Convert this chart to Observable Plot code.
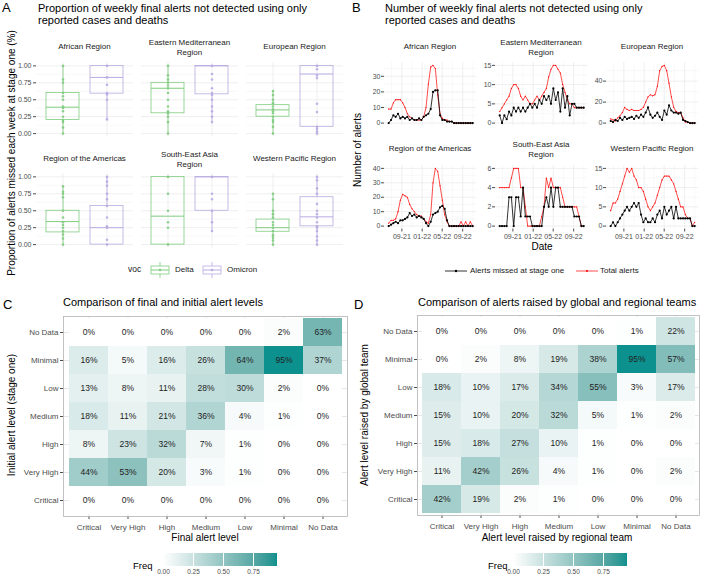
<!DOCTYPE html>
<html><head><meta charset="utf-8">
<script src="https://cdn.jsdelivr.net/npm/d3@7"></script>
<script src="https://cdn.jsdelivr.net/npm/@observablehq/plot@0.6"></script>
<style>
body{margin:0;background:#fff;font-family:"Liberation Sans",Arial,Helvetica,sans-serif;}
#fig{position:relative;width:703px;height:576px;overflow:hidden;background:#fff;}
</style></head><body><div id="fig"></div>
<script>
// ---------------- DATA ----------------
const regions = ["African Region","Eastern Mediterranean Region","European Region","Region of the Americas","South-East Asia Region","Western Pacific Region"];
const stripLabels = ["African Region","Eastern Mediterranean\nRegion","European Region","Region of the Americas","South-East Asia\nRegion","Western Pacific Region"];
const vocs = ["Delta","Omicron"];
const vocColors = ["#7fcc7f","#b9abe2"];

// Panel A: box statistics [min, q1, median, q3, max] per region
const boxDelta = [
  [0,0.20,0.39,0.60,1.00],
  [0,0.30,0.67,0.75,1.00],
  [0,0.25,0.35,0.42,0.63],
  [0,0.18,0.34,0.50,0.86],
  [0,0.00,0.42,1.00,1.00],
  [0,0.19,0.25,0.37,0.75]
];
const boxOmicron = [
  [0.21,0.59,0.83,1.00,1.00],
  [0.17,0.58,1.00,1.00,1.00],
  [0.00,0.10,0.88,1.00,1.00],
  [0.00,0.00,0.25,0.57,1.00],
  [0.20,0.50,1.00,1.00,1.00],
  [0.00,0.27,0.41,0.70,1.00]
];
// Panel A: weekly proportions (points)
const ptsDelta = [
  [0,0.09,0.17,0.2,0.25,0.33,0.38,0.4,0.5,0.55,0.6,0.75,0.8,1.0],
  [0,0.17,0.25,0.3,0.33,0.4,0.5,0.6,0.67,0.71,0.75,0.8,0.86,1.0],
  [0,0.1,0.17,0.2,0.25,0.3,0.33,0.36,0.4,0.45,0.5,0.57,0.63],
  [0,0.09,0.15,0.2,0.25,0.29,0.33,0.4,0.5,0.7,0.75,0.78,0.86],
  [0,0.25,0.33,0.5,0.75,1.0],
  [0,0.06,0.1,0.14,0.2,0.25,0.29,0.33,0.4,0.45,0.5,0.67,0.75]
];
const ptsOmicron = [
  [0.21,0.5,0.58,0.6,0.72,0.83,1.0],
  [0.17,0.25,0.33,0.4,0.5,0.57,0.6,0.67,0.8,0.88,1.0],
  [0,0.03,0.07,0.1,0.32,0.44,0.82,0.86,0.95,1.0],
  [0,0.07,0.25,0.27,0.4,0.57,0.67,0.75,0.87,0.93,1.0],
  [0.2,0.33,0.5,0.67,0.75,1.0],
  [0,0.06,0.12,0.2,0.25,0.27,0.33,0.4,0.45,0.5,0.6,0.75,0.83,0.95,1.0]
];
const propTicks = [0,0.25,0.5,0.75,1];
const propMinor = [0.125,0.375,0.625,0.875];

// Panel B: time series (dates and counts)
const dates = ["2021-06-14","2021-06-28","2021-07-12","2021-07-26","2021-08-09","2021-08-23","2021-09-06","2021-09-20","2021-10-04","2021-10-18","2021-11-01","2021-11-15","2021-11-29","2021-12-13","2021-12-27","2022-01-10","2022-01-24","2022-02-07","2022-02-21","2022-03-07","2022-03-21","2022-04-04","2022-04-18","2022-05-02","2022-05-16","2022-05-30","2022-06-13","2022-06-27","2022-07-11","2022-07-25","2022-08-08","2022-08-22","2022-09-05","2022-09-19","2022-10-03","2022-10-17","2022-10-31"];
const afrTotal  = [9,9,13,15,15,15,13,10,6,4, 3,2,2,2,2,4,10,25,36,37, 35,18,6,3,2,2,1,1,0,0, 0,0,0,0,0,0,0];
const afrMissed = [0,2,5,4,6,3,4,3,4,2, 3,2,2,3,2,4,5,6,9,20, 21,21,5,2,2,1,1,1,0,0, 0,0,0,0,0,0,0];
const emrTotal  = [3,4,5,6,7,9,10,10,9,7, 6,7,6,5,5,6,7,6,7,8, 9,12,14,15,15,14,13,10,8,6, 5,5,4,4,4,4,4];
const emrMissed = [2,0,2,1,3,2,4,3,4,3, 4,3,4,5,4,5,4,6,5,7, 6,7,5,9,6,8,3,9,4,7, 2,5,5,4,4,4,4];
const eurTotal  = [4,3,2,5,7,10,15,13,12,13, 12,12,12,13,15,20,25,27,26,27, 35,50,54,55,50,38,25,15,11,10, 10,5,1,1,0,0,0];
const eurMissed = [2,1,3,2,5,3,6,4,5,6, 4,7,5,8,6,10,15,8,5,7, 10,6,3,12,8,17,12,10,10,9, 10,3,2,1,0,0,0];
const amrTotal  = [2,4,4,5,10,18,22,21,20,15, 12,10,8,7,7,5,3,2,8,30, 40,38,28,18,8,3,0,0,0,0, 0,3,0,3,0,3,0];
const amrMissed = [0,1,2,3,2,4,4,5,6,9, 7,8,6,7,6,5,2,0,3,8, 9,10,13,14,12,4,0,0,0,0, 0,0,0,0,0,0,0];
const searTotal = [4,4,4,4,4,5,6,6,6,4, 4,2,0,0,0,0,0,0,1,2, 5,4,5,4,4,4,4,3,2,2, 2,2,2,2,1,0,0];
const searMissed= [0,0,0,0,3,3,0,3,3,1, 4,1,1,1,0,0,0,0,0,2, 3,2,4,2,4,4,2,2,2,2, 2,2,1,1,1,0,0];
const wprTotal  = [4,6,6,7,9,11,13,15,14,15, 13,12,10,10,9,7,5,4,5,6, 8,10,12,13,13,13,12,11,9,7, 5,5,3,2,2,0,1];
const wprMissed = [0,1,0,1,2,3,4,5,4,5, 6,5,6,3,1,2,1,1,2,1, 3,4,2,5,3,4,5,2,5,2, 2,2,2,2,2,0,0];
const totals = [afrTotal, emrTotal, eurTotal, amrTotal, searTotal, wprTotal];
const missed = [afrMissed, emrMissed, eurMissed, amrMissed, searMissed, wprMissed];
const countTicks = [[0,10,20,30],[0,5,10,15],[0,20,40],[0,10,20,30,40],[0,2,4,6],[0,5,10,15]];
const dateTicks = ["2021-09-01","2022-01-01","2022-05-01","2022-09-01"];
const dateMinor = ["2021-07-01","2021-11-01","2022-03-01","2022-07-01","2022-11-01"];

// Panels C and D: heatmaps (percent), rows ordered Critical -> No Data
const levels = ["Critical","Very High","High","Medium","Low","Minimal","No Data"];
const freqC = [
  [0,0,0,0,0,0,0],
  [44,53,20,3,1,0,0],
  [8,23,32,7,1,0,0],
  [18,11,21,36,4,1,0],
  [13,8,11,28,30,2,0],
  [16,5,16,26,64,95,37],
  [0,0,0,0,0,2,63]
];
const freqD = [
  [42,19,2,1,0,0,0],
  [11,42,26,4,1,0,2],
  [15,18,27,10,1,0,0],
  [15,10,20,32,5,1,2],
  [18,10,17,34,55,3,17],
  [0,2,8,19,38,95,57],
  [0,0,0,0,0,1,22]
];
const freqTicks = [0,0.25,0.5,0.75];
const TEAL = "#0d918e";

// ---------------- HELPERS ----------------
const FONT = "'Liberation Sans', Arial, Helvetica, sans-serif";
const fig = document.getElementById("fig");
function put(node, left, top) {
  const d = document.createElement("div");
  d.style.cssText = `position:absolute;left:${left}px;top:${top}px;line-height:0;`;
  d.appendChild(node); fig.appendChild(d); return d;
}
function text(str, x, y, o = {}) {
  const d = document.createElement("div");
  const anchor = o.anchor || "start";
  const tx = anchor === "middle" ? "-50%" : anchor === "end" ? "-100%" : "0";
  d.textContent = str;
  d.style.cssText = `position:absolute;left:${x}px;top:${y}px;font-size:${o.size || 10}px;color:${o.color || "#1a1a1a"};white-space:pre;line-height:${o.lh || "1.15"};text-align:${o.align || "left"};transform:translate(${tx},-50%)${o.rotate ? ` rotate(${o.rotate}deg)` : ""};font-family:${FONT};`;
  fig.appendChild(d);
}
const baseStyle = (size) => ({fontFamily: FONT, fontSize: size, color: "#4d4d4d", background: "transparent", overflow: "visible"});

// ---------------- PANEL A ----------------
text("A", 2, 8, {size: 13, color: "#000"});
text("Proportion of weekly final alerts not detected using only\nreported cases and deaths", 38, 14, {size: 11, color: "#000", lh: "12px"});
text("Proportion of alerts missed each week at stage one (%)", 12, 153, {size: 10, color: "#000", anchor: "middle", rotate: -90});

regions.forEach((reg, k) => {
  const col = k % 3, row = Math.floor(k / 3);
  const pl = [36, 141, 246][col], pt = [61.6, 173.3][row];
  const W = 97, H = 74.5, ml = 30, mr = 2, mt = 2, mb = 2;
  const boxes = vocs.map((v, j) => {
    const s = (j ? boxOmicron : boxDelta)[k];
    return {voc: v, min: s[0], q1: s[1], med: s[2], q3: s[3], max: s[4]};
  });
  const pts = vocs.flatMap((v, j) => (j ? ptsOmicron : ptsDelta)[k].map(p => ({voc: v, p})));
  const chart = Plot.plot({
    width: W + ml + mr, height: H + mt + mb,
    marginLeft: ml, marginRight: mr, marginTop: mt, marginBottom: mb,
    style: baseStyle("7px"),
    x: {type: "band", domain: vocs, paddingInner: 0.25, paddingOuter: 0.227, axis: null},
    y: {domain: [-0.05, 1.05], axis: col === 0 ? "left" : null, ticks: propTicks, tickFormat: d3.format(".2f"), tickSize: 3, tickPadding: 2, label: null},
    color: {domain: vocs, range: vocColors},
    marks: [
      Plot.ruleY(propMinor, {stroke: "#f3f3f3", strokeWidth: 0.6}),
      Plot.ruleY(propTicks, {stroke: "#ebebeb", strokeWidth: 0.8}),
      Plot.ruleX(vocs, {x: d => d, stroke: "#ebebeb", strokeWidth: 0.8}),
      Plot.ruleX(boxes, {x: "voc", y1: "min", y2: "q1", stroke: "voc", strokeWidth: 0.8}),
      Plot.ruleX(boxes, {x: "voc", y1: "q3", y2: "max", stroke: "voc", strokeWidth: 0.8}),
      Plot.barY(boxes, {x: "voc", y1: "q1", y2: "q3", fill: "none", stroke: "voc", strokeWidth: 0.8}),
      Plot.tickY(boxes, {x: "voc", y: "med", stroke: "voc", strokeWidth: 1}),
      Plot.dot(pts, {x: "voc", y: "p", r: 1.3, fill: "voc", stroke: null, fillOpacity: 0.9})
    ]
  });
  put(chart, pl - ml, pt - mt);
  text(stripLabels[k], pl + W / 2, row ? 159 : 47, {size: 8, anchor: "middle", align: "center", lh: "9.5px"});
});

// legend A
function boxKey(color) {
  const s = d3.create("svg").attr("width", 24).attr("height", 16);
  s.append("line").attr("x1", 12).attr("x2", 12).attr("y1", 0).attr("y2", 16).attr("stroke", color).attr("stroke-width", 0.8);
  s.append("rect").attr("x", 3).attr("y", 4).attr("width", 18).attr("height", 8).attr("fill", "white").attr("stroke", color).attr("stroke-width", 0.8);
  s.append("line").attr("x1", 3).attr("x2", 21).attr("y1", 8).attr("y2", 8).attr("stroke", color).attr("stroke-width", 1);
  s.append("circle").attr("cx", 12).attr("cy", 8).attr("r", 1.3).attr("fill", color);
  return s.node();
}
text("voc", 128, 270, {size: 8.5});
put(boxKey(vocColors[0]), 148, 262);
text("Delta", 175, 270, {size: 8});
put(boxKey(vocColors[1]), 200, 262);
text("Omicron", 227, 270, {size: 8});

// ---------------- PANEL B ----------------
text("B", 352, 8, {size: 13, color: "#000"});
text("Number of weekly final alerts not detected using only\nreported cases and deaths", 385, 14, {size: 11, color: "#000", lh: "12px"});
text("Number of alerts", 358, 150, {size: 10, color: "#000", anchor: "middle", rotate: -90});
text("Date", 542, 247, {size: 10, color: "#000", anchor: "middle"});

const parsedDates = dates.map(d => new Date(d));
const d0 = parsedDates[0], d1 = parsedDates[parsedDates.length - 1];
const padMs = (d1 - d0) * 0.05;
const xDomain = [new Date(+d0 - padMs), new Date(+d1 + padMs)];

regions.forEach((reg, k) => {
  const col = k % 3, row = Math.floor(k / 3);
  const pl = [383.8, 494.8, 605.8][col], pt = [62, 165][row];
  const W = 92.4, H = 63.5, ml = 24, mr = 3, mt = 2, mb = row ? 16 : 2;
  const tot = parsedDates.map((d, i) => ({date: d, v: totals[k][i]}));
  const mis = parsedDates.map((d, i) => ({date: d, v: missed[k][i]}));
  const m = d3.max([...totals[k], ...missed[k]]);
  const ticks = countTicks[k];
  const step = ticks[1] - ticks[0];
  const minorY = ticks.map(t => t + step / 2).filter(t => t <= m * 1.05);
  const chart = Plot.plot({
    width: W + ml + mr, height: H + mt + mb,
    marginLeft: ml, marginRight: mr, marginTop: mt, marginBottom: mb,
    style: baseStyle("7px"),
    x: {type: "utc", domain: xDomain, axis: row ? "bottom" : null, ticks: dateTicks.map(d => new Date(d)), tickFormat: d3.utcFormat("%m-%y"), tickSize: 3, tickPadding: 2, label: null},
    y: {domain: [-0.05 * m, 1.05 * m], ticks, tickFormat: d3.format("d"), tickSize: 3, tickPadding: 1, label: null},
    marks: [
      Plot.ruleX(dateMinor.map(d => new Date(d)), {stroke: "#f3f3f3", strokeWidth: 0.6}),
      Plot.ruleX(dateTicks.map(d => new Date(d)), {stroke: "#ebebeb", strokeWidth: 0.8}),
      Plot.ruleY(minorY, {stroke: "#f3f3f3", strokeWidth: 0.6}),
      Plot.ruleY(ticks, {stroke: "#ebebeb", strokeWidth: 0.8}),
      Plot.line(tot, {x: "date", y: "v", stroke: "#ff0000", strokeWidth: 0.7}),
      Plot.dot(tot, {x: "date", y: "v", r: 0.6, fill: "#ff0000", stroke: null}),
      Plot.line(mis, {x: "date", y: "v", stroke: "#000", strokeWidth: 0.8}),
      Plot.dot(mis, {x: "date", y: "v", r: 1.1, fill: "#000", stroke: null})
    ]
  });
  put(chart, pl - ml, pt - mt);
  text(stripLabels[k], pl + W / 2, row ? 149 : 47, {size: 8, anchor: "middle", align: "center", lh: "9.5px"});
});

function lineKey(color, w, r) {
  const s = d3.create("svg").attr("width", 22).attr("height", 10);
  s.append("line").attr("x1", 0).attr("x2", 22).attr("y1", 5).attr("y2", 5).attr("stroke", color).attr("stroke-width", w);
  s.append("circle").attr("cx", 11).attr("cy", 5).attr("r", r).attr("fill", color);
  return s.node();
}
put(lineKey("#000", 0.8, 1.2), 445, 266);
text("Alerts missed at stage one", 470, 271, {size: 8});
put(lineKey("#ff0000", 0.7, 1), 576, 266);
text("Total alerts", 600, 271, {size: 8});

// ---------------- PANELS C & D ----------------
const levelsTop = levels.slice().reverse();
const colorOpts = {type: "linear", domain: [0, 0.95], range: ["#ffffff", TEAL], interpolate: "lab"};
function heatmap(freq, cfg) {
  const cells = levels.flatMap((yl, r) => levels.map((xl, c) => ({x: xl, y: yl, f: freq[r][c] / 100, pct: freq[r][c]})));
  return Plot.plot({
    width: cfg.width, height: 260,
    marginLeft: cfg.ml, marginRight: cfg.mr, marginTop: cfg.mt, marginBottom: 260 - cfg.mt - 200,
    style: baseStyle("8px"),
    x: {domain: levels, padding: 0, insetLeft: cfg.ix, insetRight: cfg.ix, tickSize: 3, tickPadding: 5, label: null},
    y: {domain: levelsTop, padding: 0, insetTop: 2, insetBottom: 2, tickSize: 3, tickPadding: 2, label: null},
    color: colorOpts,
    marks: [
      Plot.gridX({stroke: "#e6e6e6", strokeOpacity: 1}),
      Plot.gridY({stroke: "#e6e6e6", strokeOpacity: 1}),
      Plot.cell(cells, {x: "x", y: "y", fill: "f", inset: 0}),
      Plot.text(cells, {x: "x", y: "y", text: d => d.pct + "%", fill: "#222", fontSize: 8.5}),
      Plot.frame({stroke: "#b3b3b3", strokeWidth: 0.8})
    ]
  });
}
function freqLegend(barLeft) {
  const lg = Plot.legend({
    color: colorOpts, legend: "ramp", width: 126, height: 26,
    marginTop: 0, marginBottom: 13, marginLeft: 6, marginRight: 6,
    tickSize: 0, ticks: freqTicks, tickFormat: d3.format(".2f"), label: null,
    style: {fontFamily: FONT, fontSize: "6.5px", color: "#4d4d4d", background: "transparent", overflow: "visible"}
  });
  lg.querySelectorAll(".tick line").forEach(l => l.setAttribute("stroke", "#ffffff"));
  put(lg, barLeft - 6, 553);
}

// C
text("C", 3, 305, {size: 13, color: "#000"});
text("Comparison of final and initial alert levels", 63, 302, {size: 11, color: "#000"});
put(heatmap(freqC, {width: 352, ml: 63, mr: 5, mt: 26, ix: 4}), 0, 290);
text("Final alert level", 205, 538, {size: 10, color: "#000", anchor: "middle"});
text("Initial alert level (stage one)", 12, 415, {size: 10, color: "#000", anchor: "middle", rotate: -90});
text("Freq", 133, 566, {size: 9.5, color: "#000"});
freqLegend(163);

// D
text("D", 354, 305, {size: 13, color: "#000"});
text("Comparison of alerts raised by global and regional teams", 418, 302, {size: 11, color: "#000"});
put(heatmap(freqD, {width: 351, ml: 65, mr: 4, mt: 25, ix: 4.5}), 352, 290);
text("Alert level raised by regional team", 557, 538, {size: 10, color: "#000", anchor: "middle"});
text("Alert level raised by global team", 365, 415, {size: 10, color: "#000", anchor: "middle", rotate: -90});
text("Freq", 488, 566, {size: 9.5, color: "#000"});
freqLegend(513);
</script></body></html>
